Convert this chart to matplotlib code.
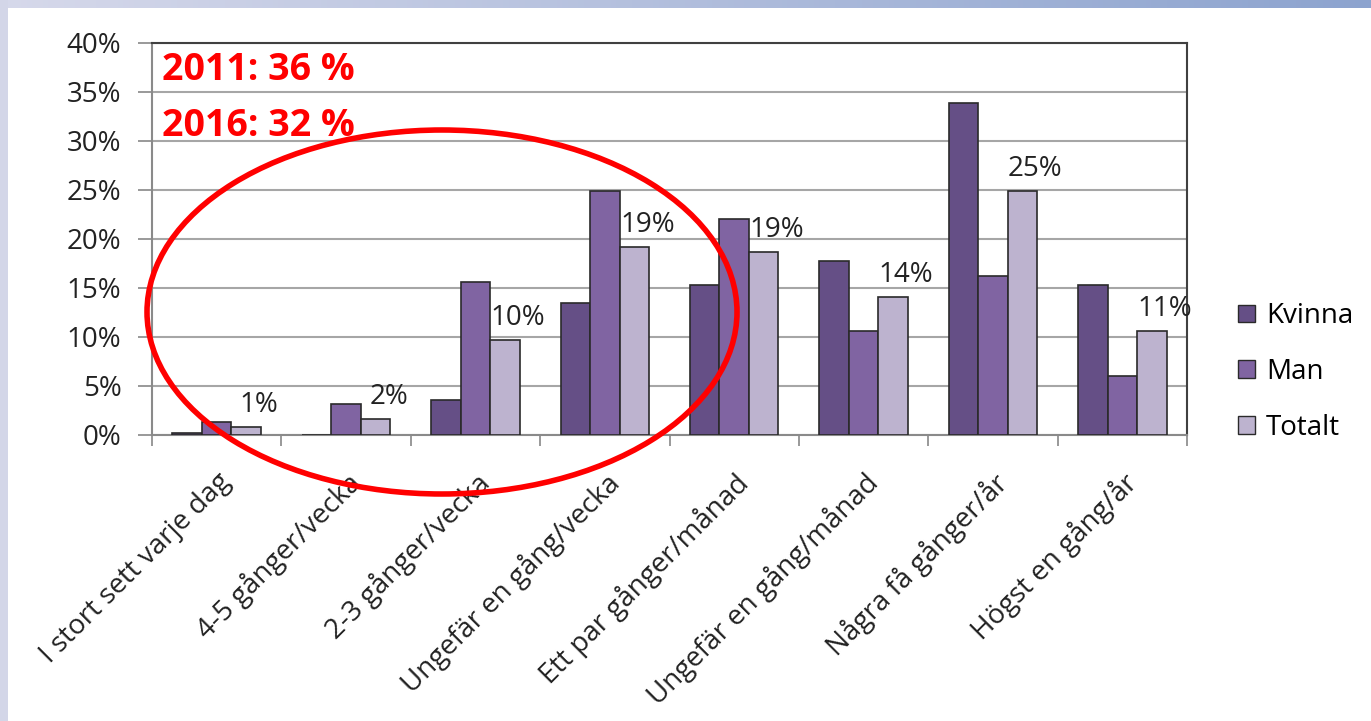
import matplotlib.pyplot as plt
import numpy as np
from matplotlib.patches import Ellipse, Patch

kategorier = ['I stort sett varje dag', '4-5 gånger/vecka', '2-3 gånger/vecka',
              'Ungefär en gång/vecka', 'Ett par gånger/månad', 'Ungefär en gång/månad',
              'Några få gånger/år', 'Högst en gång/år']
kvinna = [0.2, 0.0, 3.6, 13.5, 15.3, 17.8, 33.9, 15.3]
man = [1.3, 3.2, 15.6, 24.9, 22.0, 10.6, 16.2, 6.0]
totalt = [0.8, 1.6, 9.7, 19.2, 18.7, 14.1, 24.9, 10.6]
serier = ['Kvinna', 'Man', 'Totalt']
farger = ['#654f86', '#8064a2', '#bdb3cf']
yticks = [0, 5, 10, 15, 20, 25, 30, 35, 40]
rubrik = ['2011: 36 %', '2016: 32 %']

plt.rcParams['font.family'] = ['Open Sans', 'DejaVu Sans']

fig = plt.figure(figsize=(13.71, 7.21), dpi=100)

# ram runt bilden (bakgrund)
bg = fig.add_axes([0, 0, 1, 1], zorder=-10)
bg.set_xlim(0, 1371)
bg.set_ylim(721, 0)
bg.axis('off')
grad = np.linspace(0, 1, 256)[None, :]
c0 = np.array([0.84, 0.85, 0.92])
c1 = np.array([0.55, 0.64, 0.81])
img = c0[None, None, :] * (1 - grad[..., None]) + c1[None, None, :] * grad[..., None]
bg.imshow(img, extent=[0, 1371, 8, 0], aspect='auto')
bg.add_patch(plt.Rectangle((0, 0), 8, 721, color='#d3d6e8', lw=0))

ax = fig.add_axes([0.1109, 0.3967, 0.7549, 0.5437])
x = np.arange(len(kategorier))
w = 0.228
for i, (vals, namn) in enumerate(zip([kvinna, man, totalt], serier)):
    ax.bar(x + (i - 1) * w, vals, w, color=farger[i], edgecolor='#2a2a2a',
           linewidth=1.2, label=namn, zorder=3)

for xi, v in zip(x, totalt):
    ax.text(xi + w + 0.1, v + 0.8, f'{round(v):d}%', ha='center', va='bottom',
            fontsize=20, color='#222222', zorder=4)

ax.set_xlim(-0.5, len(kategorier) - 0.5)
ax.set_ylim(0, 40)
ax.set_yticks(yticks)
ax.set_yticklabels([f'{t}%' for t in yticks], fontsize=20, color='#222222')
ax.yaxis.grid(True, color='#a6a6a6', linewidth=1.5, zorder=0)
ax.set_xticks(x)
ax.set_xticklabels(kategorier, rotation=45, ha='right', rotation_mode='anchor',
                   fontsize=20, color='#222222')
ax.set_xticks(np.arange(-0.5, len(kategorier) + 0.5, 1), minor=True)
ax.tick_params(axis='x', which='major', length=0, pad=24)
ax.tick_params(axis='x', which='minor', length=8, width=1.2, color='#888888')
ax.tick_params(axis='y', length=10, width=1.2, color='#888888', pad=12)
for s in ['left', 'bottom']:
    ax.spines[s].set_color('#8a8a8a')
    ax.spines[s].set_linewidth(1.5)
for s in ['top', 'right']:
    ax.spines[s].set_color('#404040')
    ax.spines[s].set_linewidth(1.5)

handles = [Patch(facecolor=farger[i], edgecolor='#2a2a2a', label=serier[i]) for i in range(3)]
fig.legend(handles=handles, loc='center left', bbox_to_anchor=(1238 / 1371, 1 - 372 / 721),
           frameon=False, fontsize=20, labelspacing=1.0, handlelength=0.6,
           handleheight=0.6, handletextpad=0.4, borderpad=0, borderaxespad=0)

# röd text och ellips
ov = fig.add_axes([0, 0, 1, 1], zorder=10)
ov.set_xlim(0, 1371)
ov.set_ylim(721, 0)
ov.axis('off')
ov.text(162, 70, rubrik[0], color='#ff0000', fontsize=27, fontweight='bold', va='center')
ov.text(162, 126, rubrik[1], color='#ff0000', fontsize=27, fontweight='bold', va='center')
ov.add_patch(Ellipse((442, 312), 590, 364, fill=False, edgecolor='#ff0000', linewidth=4))

fig.savefig('out.png', dpi=100)
